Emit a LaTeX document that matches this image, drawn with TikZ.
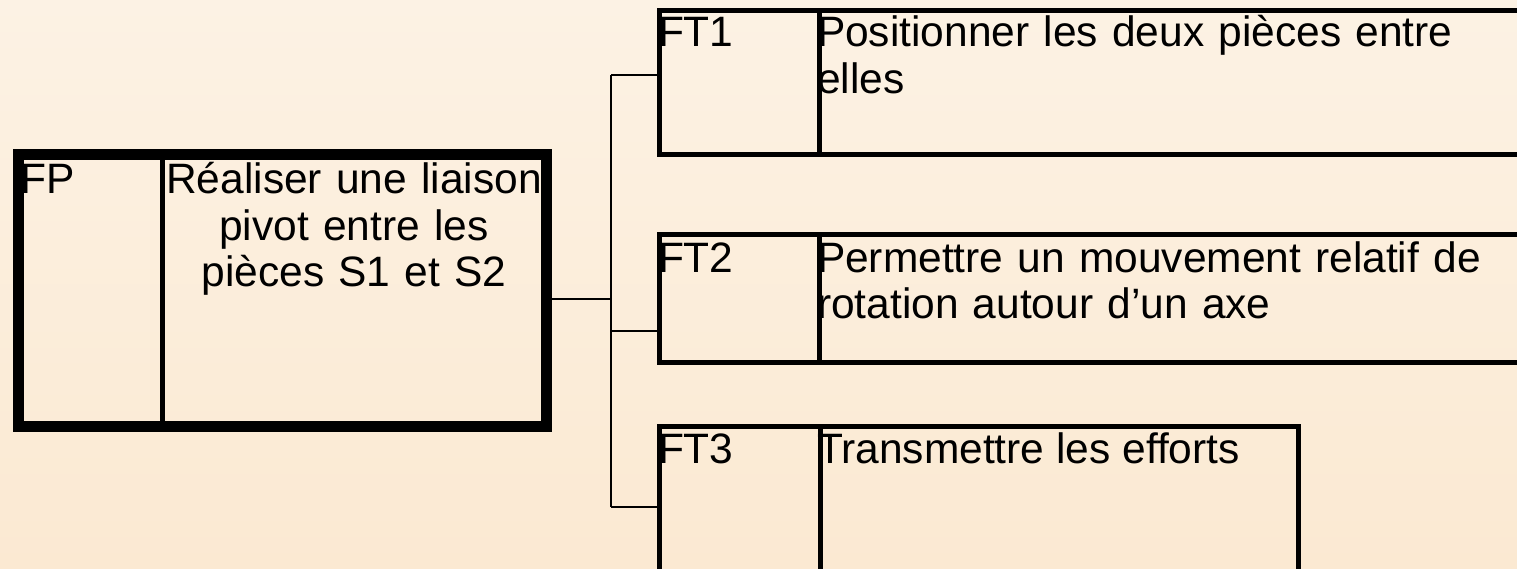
\documentclass[tikz,border=0pt]{standalone}
\usepackage{fontspec}
\setmainfont{Liberation Sans}
\definecolor{bgtop}{RGB}{252,242,228}
\definecolor{bgbot}{RGB}{251,233,210}
\begin{document}
\begin{tikzpicture}[x=1pt,y=-1pt,
  bigbox/.style={draw=black, line width=11pt, inner sep=0pt, outer sep=0pt},
  ftbox/.style={draw=black, line width=5pt, inner sep=0pt, outer sep=0pt},
  divider/.style={draw=black, line width=5pt},
  link/.style={draw=black, line width=1.5pt},
  txt/.style={inner sep=0pt, outer sep=0pt, font={\fontsize{42.5pt}{46.7pt}\selectfont}}
]
\fill[top color=bgtop, bottom color=bgbot] (0,0) rectangle (1517,568);
\useasboundingbox (0,0) rectangle (1517,568);

% connectors
\coordinate (j0) at (611,299);
\coordinate (j1) at (611,75);
\coordinate (j2) at (611,331);
\coordinate (j3) at (611,507);

% boxes
\node[bigbox, minimum width=528pt, minimum height=272pt] (fp) at (282.5,290.5) {};
\node[ftbox, minimum width=881pt, minimum height=143.5pt] (ft1) at (1099.5,82.25) {};
\node[ftbox, minimum width=881pt, minimum height=127.5pt] (ft2) at (1099.5,298.25) {};
\node[ftbox, minimum width=639.5pt, minimum height=173.5pt] (ft3) at (978.75,513.25) {};

\draw[link] (fp.east |- j0) -- (j0);
\draw[link] (j1) -- (j3);
\draw[link] (j1) -- (ft1.west |- j1);
\draw[link] (j2) -- (ft2.west |- j2);
\draw[link] (j3) -- (ft3.west |- j3);

% dividers
\draw[divider] ([xshift=143.5pt]fp.north west) -- ([xshift=143.5pt]fp.south west);
\draw[divider] ([xshift=160.5pt]ft1.north west) -- ([xshift=160.5pt]ft1.south west);
\draw[divider] ([xshift=160.5pt]ft2.north west) -- ([xshift=160.5pt]ft2.south west);
\draw[divider] ([xshift=161pt]ft3.north west) -- ([xshift=161pt]ft3.south west);

% texts
\node[txt, anchor=base west] (lfp) at (20.5,193.3) {FP};
\node[txt, anchor=base, text width=400pt, align=center] (tfp) at (354,193.3) {Réaliser une liaison\\pivot entre les\\pièces S1 et S2};

\node[txt, anchor=base west] (lft1) at (658,46.7) {FT1};
\node[txt, anchor=base west, text width=680pt, align=left] (tft1) at (817,46.7) {Positionner les deux pièces entre\\elles};

\node[txt, anchor=base west] (lft2) at (658,272) {FT2};
\node[txt, anchor=base west, text width=680pt, align=left] (tft2) at (817,272) {Permettre un mouvement relatif de\\rotation autour d’un axe};

\node[txt, anchor=base west] (lft3) at (658,463) {FT3};
\node[txt, anchor=base west] (tft3) at (817,463) {Transmettre les efforts};
\end{tikzpicture}
\end{document}
